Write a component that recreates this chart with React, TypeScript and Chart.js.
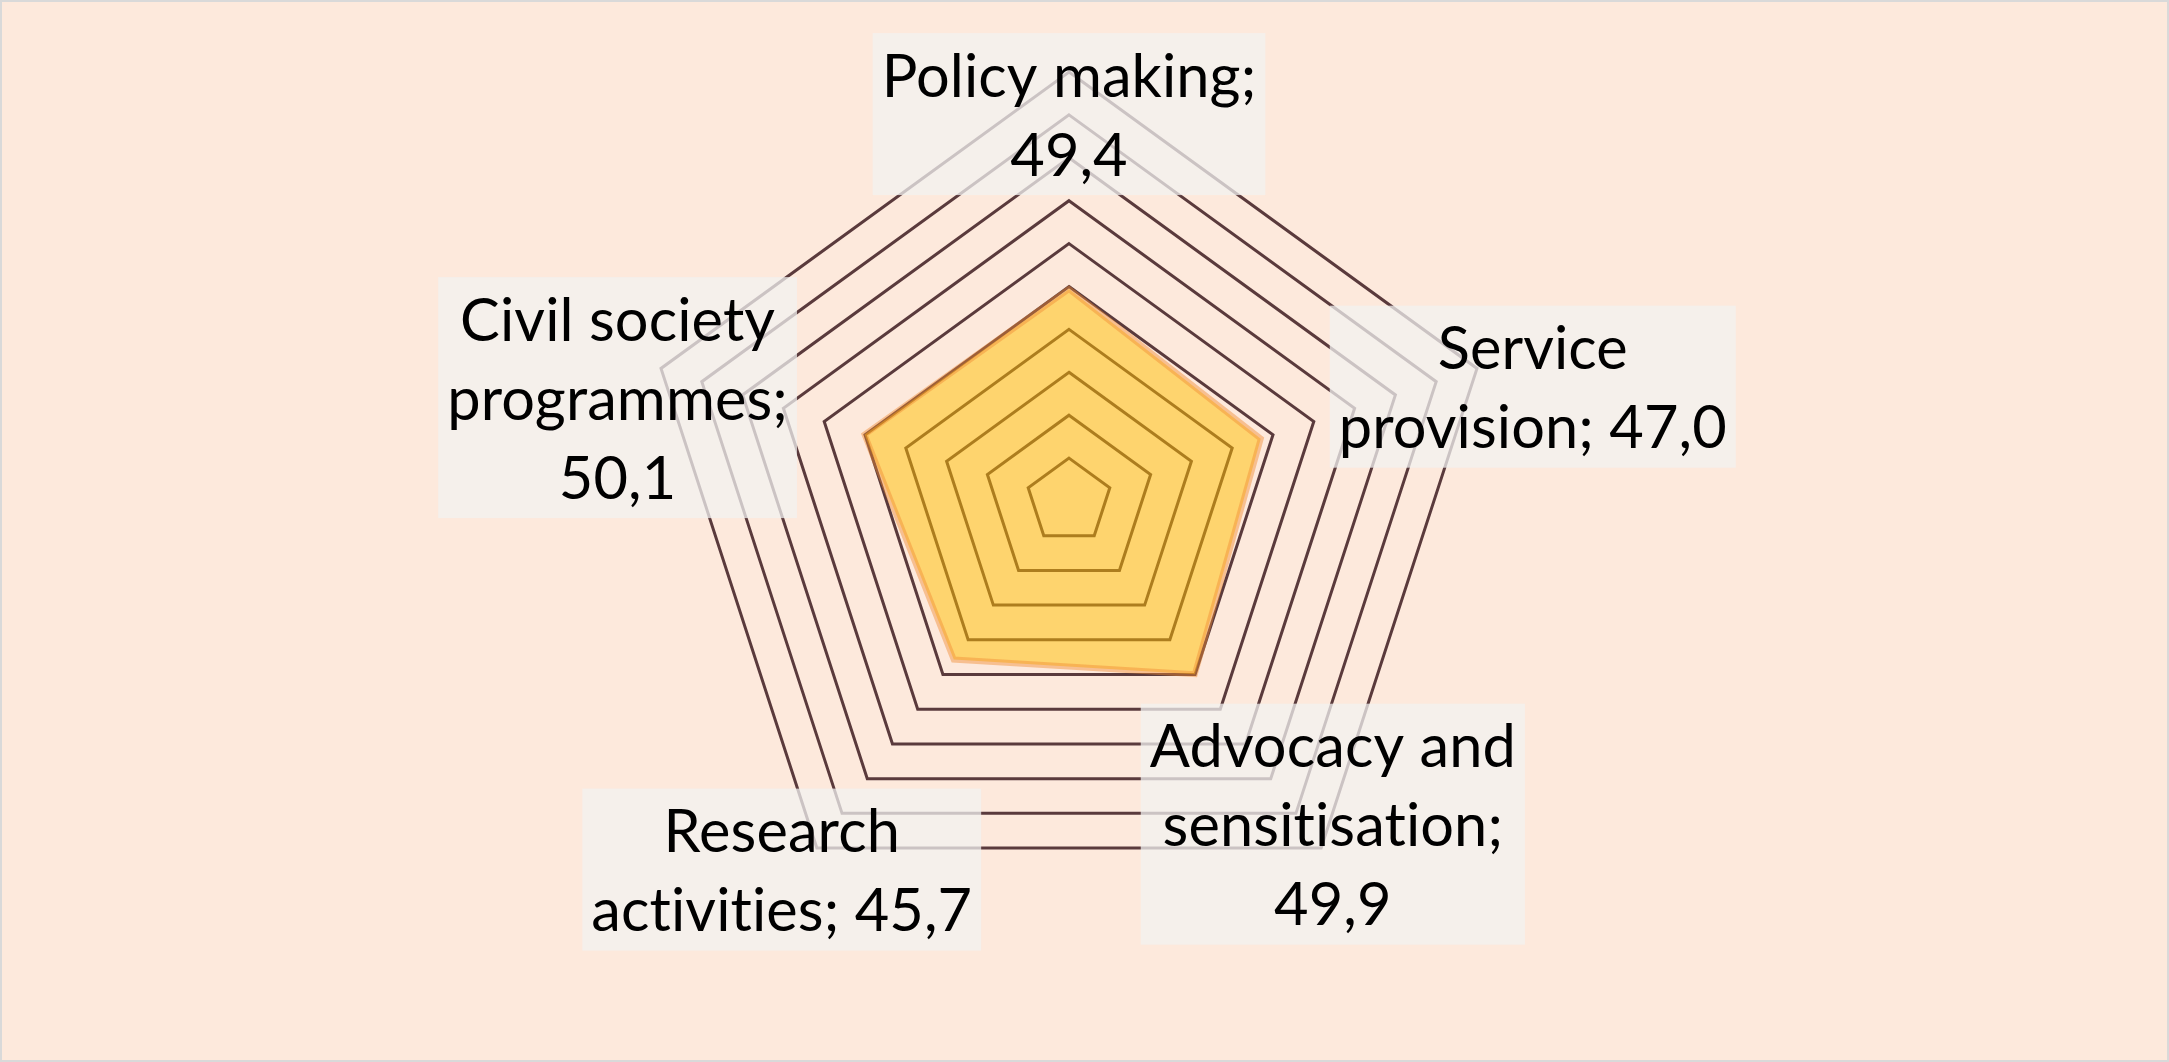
import React, { useEffect, useRef } from "react";
import { Chart, registerables } from "chart.js";

Chart.register(...registerables);

const categories = [
  "Policy making",
  "Service provision",
  "Advocacy and sensitisation",
  "Research activities",
  "Civil society programmes",
];
const values = [49.4, 47.0, 49.9, 45.7, 50.1];
const scaleMin = 0;
const scaleMax = 100;
const scaleStep = 10;

const fmt = (v: number) => v.toFixed(1).replace(".", ",");

function wrap(ctx: CanvasRenderingContext2D, text: string, maxWidth: number): string[] {
  const words = text.split(" ");
  const lines: string[] = [];
  let cur = "";
  for (const w of words) {
    const test = cur ? cur + " " + w : w;
    if (cur && ctx.measureText(test).width > maxWidth) {
      lines.push(cur);
      cur = w;
    } else {
      cur = test;
    }
  }
  if (cur) lines.push(cur);
  return lines;
}

const boxLabels = {
  id: "boxLabels",
  afterDatasetsDraw(chart: any) {
    const opts = chart.options.plugins.boxLabels;
    const ctx: any = chart.ctx;
    const meta = chart.getDatasetMeta(0);
    ctx.save();
    ctx.font = `${opts.size}px ${opts.family}`;
    try {
      ctx.letterSpacing = "0.1px";
    } catch (e) {}
    meta.data.forEach((pt: any, i: number) => {
      const text = `${categories[i]}; ${fmt(values[i])}`;
      const lines = wrap(ctx, text, opts.maxWidth);
      const tw = Math.max(...lines.map((l) => ctx.measureText(l).width));
      const w = tw + 2 * opts.padX;
      const h = lines.length * opts.lineHeight + 2 * opts.padY;
      const [dx, dy] = opts.offsets[i];
      const cx = pt.x + dx;
      const cy = pt.y + dy;
      ctx.fillStyle = opts.boxColor;
      ctx.fillRect(cx - w / 2, cy - h / 2, w, h);
      ctx.fillStyle = opts.color;
      ctx.textAlign = "center";
      ctx.textBaseline = "middle";
      lines.forEach((l, k) => {
        ctx.fillText(l, cx, cy - h / 2 + opts.padY + opts.lineHeight * (k + 0.5) + 3);
      });
    });
    ctx.restore();
  },
};

export default function App() {
  const ref = useRef<HTMLCanvasElement>(null);
  useEffect(() => {
    if (!ref.current) return;
    const chart = new Chart(ref.current, {
      type: "radar",
      data: {
        labels: categories,
        datasets: [
          {
            data: values,
            backgroundColor: "rgba(255,192,0,0.5)",
            borderColor: "rgba(240,140,50,0.45)",
            borderWidth: 6,
            pointRadius: 0,
            fill: true,
          },
        ],
      },
      plugins: [boxLabels],
      options: {
        animation: false,
        responsive: true,
        maintainAspectRatio: false,
        layout: { padding: { left: 0, right: 31, top: 72, bottom: 132 } },
        plugins: {
          legend: { display: false },
          tooltip: { enabled: false },
          boxLabels: {
            size: 59.5,
            family: "Lato",
            lineHeight: 79,
            padX: 9,
            padY: 2,
            maxWidth: 405,
            boxColor: "rgba(242,242,240,0.75)",
            color: "#000000",
            offsets: [
              [0, -175],
              [272, -52],
              [138, 150],
              [-172, 210],
              [-247, -37],
            ],
          },
        } as any,
        scales: {
          r: {
            min: scaleMin,
            max: scaleMax,
            ticks: { display: false, stepSize: scaleStep },
            pointLabels: { display: false },
            angleLines: { display: false },
            grid: { color: "#5a3a3c", lineWidth: 3, circular: false },
          },
        },
      },
    });
    return () => chart.destroy();
  }, []);
  return (
    <div
      style={{
        position: "fixed",
        left: 0,
        top: 0,
        width: 2169,
        height: 1062,
        background: "#fde9dc",
      }}
    >
      <canvas ref={ref} />
      <div
        style={{
          position: "absolute",
          left: 0,
          top: 0,
          width: 2169,
          height: 1062,
          boxSizing: "border-box",
          border: "2px solid #d9d9d9",
          pointerEvents: "none",
        }}
      />
    </div>
  );
}
